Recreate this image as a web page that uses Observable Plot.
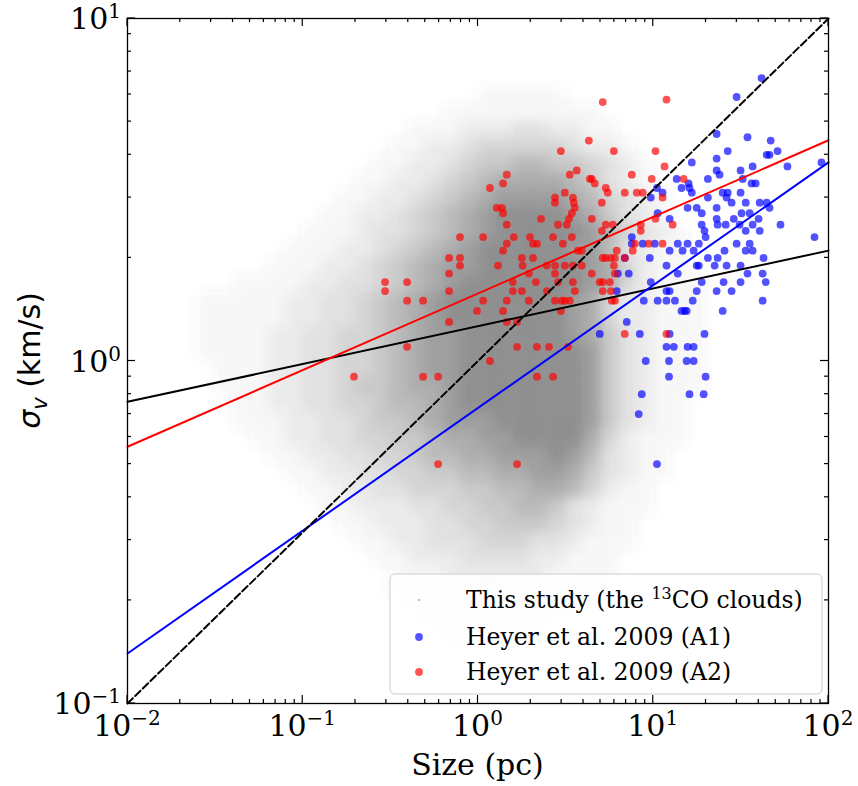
<!DOCTYPE html>
<html><head><meta charset="utf-8">
<script src="https://cdn.jsdelivr.net/npm/d3@7"></script>
<script src="https://cdn.jsdelivr.net/npm/@observablehq/plot@0.6"></script>
<style>body{margin:0;background:#fff;} #chart svg{display:block;}</style>
</head><body><div id="chart"></div>
<script>
// ---------- data ----------
const xTickValues = [0.01, 0.1, 1, 10, 100];
const xTickExps = ["\u22122", "\u22121", "0", "1", "2"];
const yTickValues = [0.1, 1, 10];
const yTickExps = ["\u22121", "0", "1"];
const legendLabels = ["This study (the ", "13", "CO clouds)", "Heyer et al. 2009 (A1)", "Heyer et al. 2009 (A2)"];

// Heyer et al. 2009 (A1): [size pc, sigma km/s]
const heyerA1 = [
[16.6,3.8],[20.5,3.4],[13.6,3.4],[14.5,3.2],[15.9,3.3],[16.1,3.2],[16.6,3.1],[10.5,3.2],[9.68,3.0],[11.3,3.1],[20.5,3.0],
[41.5,6.7],[29.9,5.9],[23.0,4.6],[34.5,4.5],[46.8,4.4],[26.6,4.1],[51.2,4.1],[44.4,4.0],[46.1,4.0],[23.0,3.9],[36.9,3.7],
[58.3,3.7],[31.5,3.6],[91.2,3.8],[23.0,3.6],[23.9,3.5],[32.4,3.4],[36.4,3.3],[38.4,3.3],[24.9,3.1],[26.6,3.1],[26.2,3.0],[31.5,3.1],
[10.6,2.7],[12.4,2.6],[15.7,2.8],[17.7,2.8],[18.9,2.7],[18.9,2.5],[19.6,2.4],[19.9,2.3],[7.54,2.3],[7.54,2.2],[8.71,2.2],[10.2,2.2],
[13.8,2.2],[15.7,2.2],[18.2,2.2],[12.4,2.1],[14.7,2.1],[17.0,2.1],[6.88,2.0],[9.55,2.0],[20.5,2.0],[11.9,1.9],[17.7,1.9],[18.2,1.9],
[7.25,1.8],[6.28,1.8],[9.68,1.7],[13.8,1.8],[11.9,1.6],[12.4,1.6],[18.9,1.7],[17.7,1.6],[6.19,1.6],[10.6,1.5],[11.9,1.5],[13.3,1.5],
[16.8,1.5],[14.5,1.4],[15.1,1.4],[15.5,1.4],[8.83,1.5],[7.06,1.3],[4.95,1.2],[8.38,1.2],[12.4,1.2],[19.6,1.2],
[28.0,2.9],[33.7,2.9],[40.5,2.9],[44.4,2.9],[23.0,2.8],[46.1,2.8],[31.9,2.7],[35.5,2.7],[23.0,2.6],[28.8,2.6],[39.9,2.6],[23.3,2.5],
[25.9,2.5],[31.1,2.5],[36.9,2.5],[53.2,2.5],[33.7,2.4],[40.5,2.4],[83.2,2.3],[29.9,2.2],[35.5,2.2],[25.5,2.1],[33.7,2.1],[36.9,2.1],
[23.3,2.0],[42.6,2.0],[22.4,1.9],[26.2,1.9],[31.5,1.9],[34.5,1.8],[42.1,1.8],[25.2,1.7],[31.5,1.7],[43.8,1.7],[23.0,1.6],[28.0,1.6],
[42.1,1.5],[24.9,1.4],
[11.9,1.1],[13.1,1.1],[15.7,1.1],[17.0,1.1],[9.06,1.0],[12.3,1.0],[15.5,1.0],[17.0,1.0],[12.3,0.9],[19.9,0.9],[8.60,0.8],[16.1,0.8],
[19.4,0.8],[8.26,0.7],[10.5,0.5]
];

// Heyer et al. 2009 (A2): [size pc, sigma km/s]
const heyerA2 = [
[2.97,4.1],[1.46,3.5],[1.39,3.3],[1.17,3.2],[3.66,3.6],[3.34,3.5],[4.29,4.4],[4.35,3.4],[2.75,3.0],[3.13,3.1],[3.48,3.0],
[5.15,5.7],[11.9,5.8],[5.96,4.1],[10.3,4.1],[11.6,3.7],[7.54,3.5],[9.80,3.4],[4.46,3.4],[4.64,3.3],[5.36,3.2],[5.50,3.1],
[6.88,3.1],[8.05,3.1],[8.71,3.1],[14.9,3.4],[11.3,3.0],
[1.28,2.8],[1.37,2.8],[1.39,2.7],[2.75,2.9],[3.52,2.9],[3.57,2.8],[3.43,2.7],[3.30,2.6],[2.29,2.6],[2.86,2.5],[3.21,2.5],[1.46,2.5],
[1.07,2.3],[1.60,2.3],[1.98,2.3],[2.68,2.3],[3.43,2.3],[1.46,2.2],[2.06,2.2],[2.17,2.2],[3.05,2.2],[1.39,2.1],[3.71,2.1],[3.91,2.1],
[1.78,2.0],[2.06,2.0],[1.30,1.9],[1.80,1.9],[2.47,1.9],[2.75,1.9],[3.13,1.9],[3.48,1.9],[3.91,1.9],[1.95,1.8],[2.75,1.8],
[1.58,1.7],[2.14,1.7],[2.86,1.7],[3.48,1.7],[1.58,1.6],[1.78,1.6],[2.47,1.6],[3.57,1.6],[1.07,1.5],[1.46,1.5],[1.95,1.5],[2.75,1.5],
[3.01,1.5],[3.13,1.5],[3.34,1.5],[0.986,1.4],[1.39,1.4],[2.97,1.4],[1.67,1.3],[1.46,1.3],
[0.789,2.3],[0.684,2.0],[0.789,2.0],[0.789,1.9],[0.684,1.8],[0.295,1.7],[0.394,1.7],[0.295,1.6],[0.684,1.6],[0.394,1.5],[0.486,1.5],
[0.684,1.3],[0.394,1.1],[0.196,0.9],[0.486,0.9],[0.592,0.9],[0.592,0.5],
[1.67,1.1],[2.17,1.1],[2.54,1.1],[3.26,1.1],[1.17,1.0],[2.17,0.9],[2.68,0.9],[1.67,0.5],
[5.09,2.9],[4.46,2.6],[5.36,2.5],[5.88,2.5],[5.09,2.4],[8.49,2.5],[8.49,2.4],[10.3,2.6],[12.9,2.5],[7.85,2.2],[9.42,2.2],[11.3,2.2],
[7.64,2.1],[6.19,2.1],[5.15,2.0],[5.36,2.0],[5.73,2.0],[6.04,2.0],[6.88,2.0],[5.96,1.9],[4.46,1.8],[6.04,1.8],[4.95,1.7],[5.15,1.7],
[5.65,1.7],[5.15,1.6],[5.73,1.6],[5.80,1.5],[6.04,1.5],[6.88,1.2],[11.9,1.2]
];

// This study: density of the 13CO clouds, on a grid in log10 space
const cloudLogSizeStart = -1.6;   // log10(pc) of first column edge
const cloudLogSizeStep = 0.1;
const cloudLogSigmaTop = 0.8;     // log10(km/s) of first row top edge
const cloudLogSigmaStep = 0.05;
// each row: [first column, density digits 0-9]
const cloudRows = [
[16,"11111"],
[14,"111111111"],
[12,"111222332211"],
[11,"11223444443221"],
[10,"1122345566554321"],
[9,"11223456777765321"],
[8,"1122345678888764321"],
[7,"11223456789999875321"],
[6,"1112334567899999864321"],
[5,"11122345678999998863211"],
[4,"111223456788999999874211"],
[2,"111122334567899999998742111"],
[0,"11111223345678999999987422111"],
[0,"11111223345678999999987422111"],
[0,"11112233445678899999987532111"],
[0,"11112233445678899999998532111"],
[1,"1112233445678899999998532111"],
[1,"1112233455677899999998532111"],
[2,"11223344566789999999853211"],
[2,"11122334556788899999853211"],
[3,"1122334455677889999742111"],
[4,"11223344566778889863211"],
[5,"1122334455667788753211"],
[6,"11223344455667764211"],
[7,"1122233445566532111"],
[8,"11222334455543211"],
[9,"1122333444332111"],
[10,"11222333322111"],
[11,"1112222221111"],
[11,"111112111111"],
[12,"1111111111"],
[13,"1111111"],
[14,"11111"]
];

// fitted power laws, evaluated at the axis ends
const fitSizes = [0.01, 100];
const fitThisStudy = [0.76, 2.10];
const fitA2 = [0.562, 4.41];
const fitA1 = [0.140, 3.80];
const fitReference = [0.1, 10];

// ---------- build tables ----------
const cloudCells = [];
cloudRows.forEach(([c0, digits], r) => {
  for (let k = 0; k < digits.length; k++) {
    const d = +digits[k];
    if (!d) continue;
    const c = c0 + k;
    const lx = cloudLogSizeStart + c * cloudLogSizeStep;
    const ly = cloudLogSigmaTop - r * cloudLogSigmaStep;
    cloudCells.push({x1: 10 ** lx, x2: 10 ** (lx + cloudLogSizeStep), y1: 10 ** (ly - cloudLogSigmaStep), y2: 10 ** ly, d});
  }
});
const fitLine = ys => fitSizes.map((s, i) => ({x: s, y: ys[i]}));

// ---------- plot ----------
const W = 858, H = 786;
const plot = Plot.plot({
  width: W, height: H,
  marginLeft: 127, marginRight: 30, marginTop: 18, marginBottom: 83,
  x: {type: "log", domain: [0.01, 100], axis: null},
  y: {type: "log", domain: [0.1, 10], axis: null},
  opacity: {type: "pow", exponent: 1.2, domain: [0, 9], range: [0, 0.66]},
  style: {background: "white", overflow: "visible"},
  marks: [
    Plot.rect(cloudCells, {x1: "x1", x2: "x2", y1: "y1", y2: "y2", fill: "#555555", fillOpacity: "d"}),
    Plot.dot(heyerA1, {x: d => d[0], y: d => d[1], r: 3.9, fill: "#0000ff", fillOpacity: 0.68, stroke: "none"}),
    Plot.dot(heyerA2, {x: d => d[0], y: d => d[1], r: 3.9, fill: "#ff0000", fillOpacity: 0.68, stroke: "none"}),
    Plot.line(fitLine(fitThisStudy), {x: "x", y: "y", stroke: "black", strokeWidth: 2}),
    Plot.line(fitLine(fitA2), {x: "x", y: "y", stroke: "#ff0000", strokeWidth: 2}),
    Plot.line(fitLine(fitA1), {x: "x", y: "y", stroke: "#0000ff", strokeWidth: 2}),
    Plot.line(fitLine(fitReference), {x: "x", y: "y", stroke: "black", strokeWidth: 2, strokeDasharray: "7.5,3.2"}),
    Plot.frame({stroke: "black", strokeWidth: 1.3})
  ]
});

const svg = d3.select(plot);
const defs = svg.insert("defs", ":first-child");
defs.append("filter").attr("id", "cloudBlur")
  .attr("x", "-20%").attr("y", "-20%").attr("width", "140%").attr("height", "140%")
  .append("feGaussianBlur").attr("stdDeviation", 6);
svg.select('g[aria-label="rect"]').attr("filter", "url(#cloudBlur)");

const sx = plot.scale("x"), sy = plot.scale("y");
const xL = sx.apply(0.01), xR = sx.apply(100), yB = sy.apply(0.1), yT = sy.apply(10);
const serif = "'DejaVu Serif', serif";
const ax = svg.append("g").attr("stroke", "black").attr("stroke-width", 1.2);
const minorX = [], minorY = [];
for (let e = -2; e < 2; e++) for (let m = 2; m <= 9; m++) minorX.push(m * 10 ** e);
for (let e = -1; e < 1; e++) for (let m = 2; m <= 9; m++) minorY.push(m * 10 ** e);
xTickValues.forEach(v => {
  const p = sx.apply(v);
  ax.append("line").attr("x1", p).attr("x2", p).attr("y1", yB).attr("y2", yB - 8);
  ax.append("line").attr("x1", p).attr("x2", p).attr("y1", yT).attr("y2", yT + 8);
});
minorX.forEach(v => {
  const p = sx.apply(v);
  ax.append("line").attr("x1", p).attr("x2", p).attr("y1", yB).attr("y2", yB - 4);
  ax.append("line").attr("x1", p).attr("x2", p).attr("y1", yT).attr("y2", yT + 4);
});
yTickValues.forEach(v => {
  const p = sy.apply(v);
  ax.append("line").attr("y1", p).attr("y2", p).attr("x1", xL).attr("x2", xL + 8);
  ax.append("line").attr("y1", p).attr("y2", p).attr("x1", xR).attr("x2", xR - 8);
});
minorY.forEach(v => {
  const p = sy.apply(v);
  ax.append("line").attr("y1", p).attr("y2", p).attr("x1", xL).attr("x2", xL + 4);
  ax.append("line").attr("y1", p).attr("y2", p).attr("x1", xR).attr("x2", xR - 4);
});

const lab = svg.append("g").attr("font-family", serif).attr("fill", "black");
xTickValues.forEach((v, i) => {
  const t = lab.append("text").attr("x", sx.apply(v)).attr("y", yB + 33)
    .attr("text-anchor", "middle").attr("font-size", 30);
  t.append("tspan").text("10");
  t.append("tspan").attr("dy", -11).attr("font-size", 20).text(xTickExps[i]);
});
yTickValues.forEach((v, i) => {
  const t = lab.append("text").attr("x", xL - 6).attr("y", sy.apply(v) + 11)
    .attr("text-anchor", "end").attr("font-size", 30);
  t.append("tspan").text("10");
  t.append("tspan").attr("dy", -11).attr("font-size", 20).text(yTickExps[i]);
});
lab.append("text").attr("x", (xL + xR) / 2).attr("y", 775).attr("text-anchor", "middle")
  .attr("font-size", 30).text("Size (pc)");
const yl = lab.append("text").attr("transform", `translate(40,${(yT + yB) / 2}) rotate(-90)`)
  .attr("text-anchor", "middle").attr("font-size", 30).attr("font-family", "'DejaVu Sans', sans-serif");
yl.append("tspan").attr("font-style", "italic").text("\u03c3");
yl.append("tspan").attr("font-style", "italic").attr("font-size", 21).attr("dy", 7).text("v");
yl.append("tspan").attr("dy", -7).text(" (km/s)");

// legend
const lg = svg.append("g").attr("font-family", serif).attr("font-size", 23.5).attr("text-anchor", "start");
lg.append("rect").attr("x", 390).attr("y", 574).attr("width", 432).attr("height", 120).attr("rx", 5)
  .attr("fill", "white").attr("fill-opacity", 0.85).attr("stroke", "#cccccc");
lg.append("circle").attr("cx", 419).attr("cy", 600).attr("r", 1.3).attr("fill", "#999").attr("fill-opacity", 0.6);
lg.append("circle").attr("cx", 419).attr("cy", 637).attr("r", 3.9).attr("fill", "#0000ff").attr("fill-opacity", 0.68);
lg.append("circle").attr("cx", 419).attr("cy", 672).attr("r", 3.9).attr("fill", "#ff0000").attr("fill-opacity", 0.68);
const t1 = lg.append("text").attr("x", 466).attr("y", 608);
t1.append("tspan").text(legendLabels[0]);
t1.append("tspan").attr("dy", -9).attr("font-size", 16).text(legendLabels[1]);
t1.append("tspan").attr("dy", 9).text(legendLabels[2]);
lg.append("text").attr("x", 466).attr("y", 645).text(legendLabels[3]);
lg.append("text").attr("x", 466).attr("y", 680).text(legendLabels[4]);

document.getElementById("chart").appendChild(plot);
</script>
</body></html>
